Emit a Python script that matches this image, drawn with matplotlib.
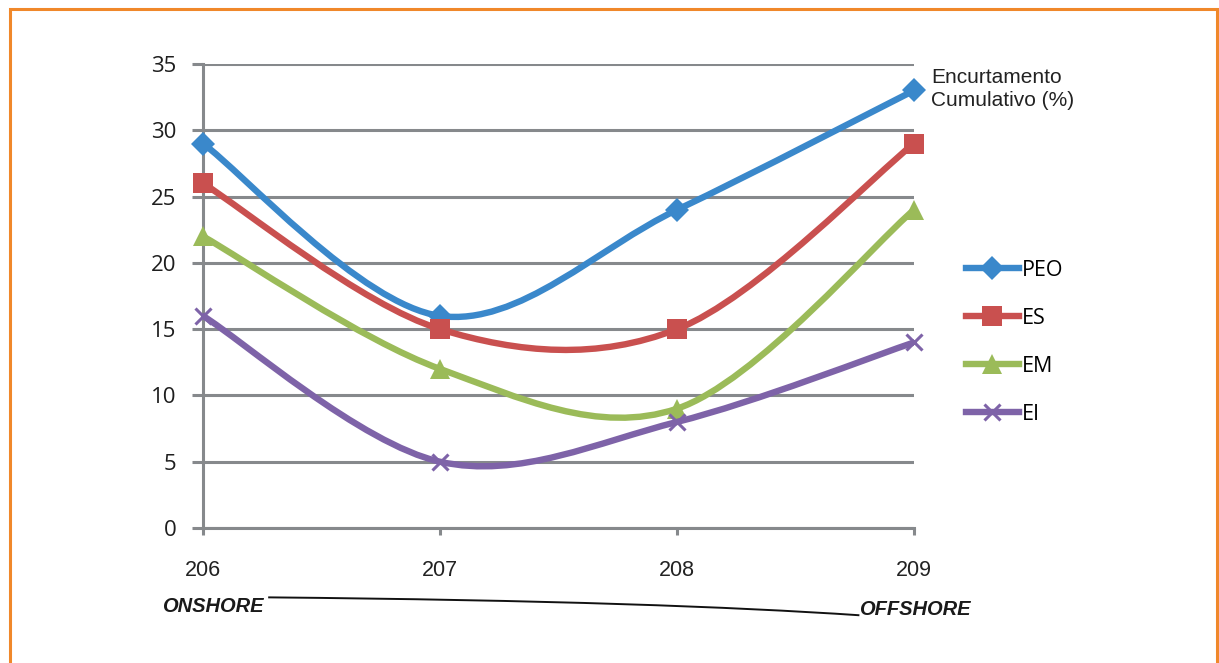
import numpy as np
import matplotlib.pyplot as plt
from matplotlib.path import Path
from matplotlib.patches import PathPatch, Rectangle
from matplotlib.lines import Line2D

secoes = [206, 207, 208, 209]
peo = [29, 16, 24, 33]
es = [26, 15, 15, 29]
em = [22, 12, 9, 24]
ei = [16, 5, 8, 14]

nomes = ['PEO', 'ES', 'EM', 'EI']
cores = ['#3A88CB', '#C9504F', '#9BBB59', '#7E63A8']
marcadores = ['D', 's', '^', 'x']
tamanhos = [12, 14, 15, 12]

ARIAL = 'Liberation Sans'
CALIBRI = 'Open Sans'


def curva_suave(x, y):
    # bezier cubico estilo "linha suavizada" do Excel (Catmull-Rom)
    x = np.asarray(x, float)
    y = np.asarray(y, float)
    px = np.concatenate([[x[0]], x, [x[-1]]])
    py = np.concatenate([[y[0]], y, [y[-1]]])
    verts = [(x[0], y[0])]
    codes = [Path.MOVETO]
    for i in range(1, len(px) - 2):
        c1 = (px[i] + (px[i + 1] - px[i - 1]) / 6, py[i] + (py[i + 1] - py[i - 1]) / 6)
        c2 = (px[i + 1] - (px[i + 2] - px[i]) / 6, py[i + 1] - (py[i + 2] - py[i]) / 6)
        verts += [c1, c2, (px[i + 1], py[i + 1])]
        codes += [Path.CURVE4] * 3
    return Path(verts, codes)


fig = plt.figure(figsize=(12.19, 6.63), dpi=100)
fig.patch.set_facecolor('white')
fig.patches.append(Rectangle((0.008, -0.05), 0.990, 1.037, transform=fig.transFigure,
                             fill=False, edgecolor='#F0882A', linewidth=2.2))

ax = fig.add_axes([0.1665, 0.2036, 0.5833, 0.6999])

for i, serie in enumerate([peo, es, em, ei]):
    ax.add_patch(PathPatch(curva_suave(secoes, serie), facecolor='none',
                           edgecolor=cores[i], linewidth=4.6, capstyle='round',
                           joinstyle='round', zorder=3 + i))
    ax.plot(secoes, serie, linestyle='none', marker=marcadores[i], ms=tamanhos[i],
            color=cores[i], mew=2.2 if marcadores[i] == 'x' else 0, zorder=3 + i,
            clip_on=False)

ax.set_xlim(206, 209)
ax.set_ylim(0, 35)
ax.set_yticks(range(0, 36, 5))
ax.set_xticks(secoes)
ax.set_xticklabels([str(s) for s in secoes], fontfamily=ARIAL, fontsize=15.5, color='#222222')
ax.set_yticklabels([str(v) for v in range(0, 36, 5)], fontfamily=CALIBRI, fontsize=16,
                   color='#1e1e1e')
ax.grid(axis='y', color='#86898C', linewidth=2.2)
ax.set_axisbelow(True)
for lado in ['top', 'right']:
    ax.spines[lado].set_visible(False)
for lado in ['left', 'bottom']:
    ax.spines[lado].set_color('#86898C')
    ax.spines[lado].set_linewidth(2.2)
ax.tick_params(axis='y', direction='out', length=8, width=2.2, color='#86898C', pad=11)
ax.tick_params(axis='x', direction='out', length=5, width=2.2, color='#86898C', pad=18)

handles = [Line2D([], [], color=cores[i], lw=4.6, marker=marcadores[i], ms=tamanhos[i],
                  mew=2.2 if marcadores[i] == 'x' else 0) for i in range(4)]
fig.legend(handles, nomes, loc='upper left', bbox_to_anchor=(0.785, 0.621), frameon=False,
           prop={'family': CALIBRI, 'size': 15.5}, handlelength=2.5, handletextpad=0.12,
           labelspacing=1.25, borderaxespad=0)

fig.text(0.764, 0.898, 'Encurtamento\nCumulativo (%)', fontfamily=ARIAL, fontsize=15,
         color='#222222', ha='left', va='top', linespacing=1.3)

fig.text(0.133, 0.085, 'ONSHORE', fontfamily=ARIAL, fontsize=14.5, fontweight='bold',
         fontstyle='italic', color='#1a1a1a', ha='left', va='center')
fig.text(0.705, 0.080, 'OFFSHORE', fontfamily=ARIAL, fontsize=14.5, fontweight='bold',
         fontstyle='italic', color='#1a1a1a', ha='left', va='center')
risco = Path([(0.220, 0.099), (0.45, 0.095), (0.60, 0.085), (0.705, 0.072)],
             [Path.MOVETO, Path.CURVE4, Path.CURVE4, Path.CURVE4])
fig.patches.append(PathPatch(risco, transform=fig.transFigure, facecolor='none',
                             edgecolor='#111111', linewidth=1.4))

fig.savefig('out.png', dpi=100)
